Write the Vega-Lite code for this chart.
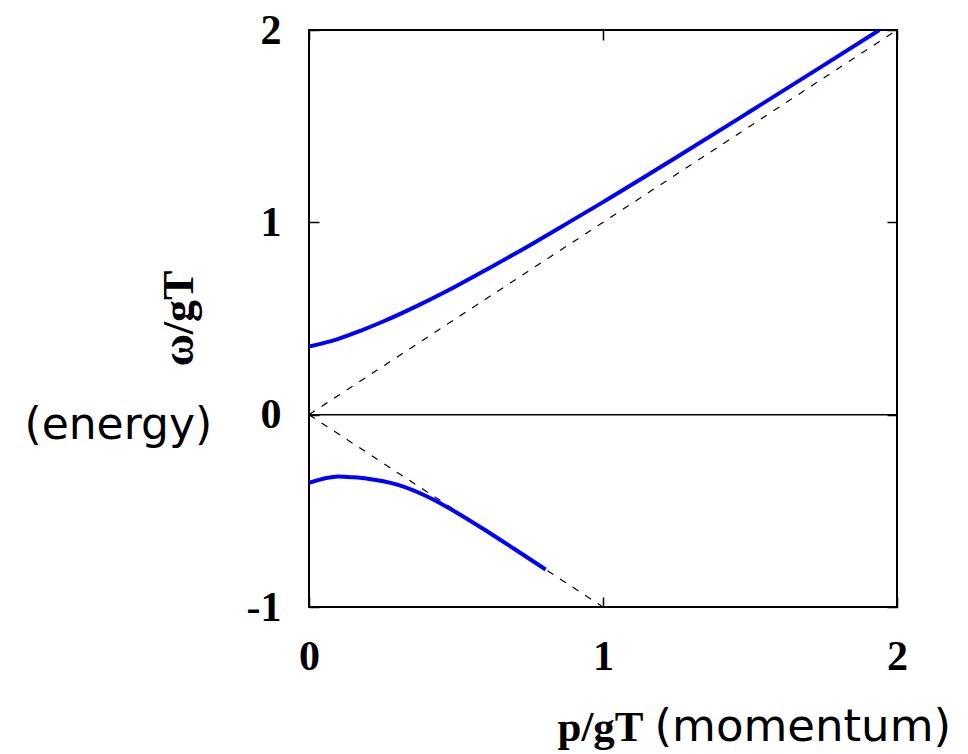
{
  "$schema": "https://vega.github.io/schema/vega-lite/v6.json",
  "width": 588,
  "height": 577,
  "autosize": "none",
  "padding": {"left": 309, "top": 30, "right": 71, "bottom": 147},
  "background": "white",
  "config": {"view": {"stroke": "black", "strokeWidth": 2}},
  "datasets": {
    "guides": [
      {"p": 0, "w": 0, "g": "up"},
      {"p": 2, "w": 2, "g": "up"},
      {"p": 0, "w": 0, "g": "down"},
      {"p": 1, "w": -1, "g": "down"}
    ],
    "curves": [
      {"p": 0, "w": 0.354, "branch": "particle"},
      {"p": 0.1, "w": 0.394, "branch": "particle"},
      {"p": 0.175, "w": 0.436, "branch": "particle"},
      {"p": 0.25, "w": 0.483, "branch": "particle"},
      {"p": 0.375, "w": 0.571, "branch": "particle"},
      {"p": 0.5, "w": 0.668, "branch": "particle"},
      {"p": 0.6, "w": 0.751, "branch": "particle"},
      {"p": 0.75, "w": 0.880, "branch": "particle"},
      {"p": 0.875, "w": 0.992, "branch": "particle"},
      {"p": 1.0, "w": 1.105, "branch": "particle"},
      {"p": 1.25, "w": 1.338, "branch": "particle"},
      {"p": 1.5, "w": 1.576, "branch": "particle"},
      {"p": 1.75, "w": 1.816, "branch": "particle"},
      {"p": 1.94, "w": 2.0, "branch": "particle"},
      {"p": 0, "w": -0.354, "branch": "plasmino"},
      {"p": 0.1, "w": -0.322, "branch": "plasmino"},
      {"p": 0.15, "w": -0.326, "branch": "plasmino"},
      {"p": 0.2, "w": -0.333, "branch": "plasmino"},
      {"p": 0.3, "w": -0.364, "branch": "plasmino"},
      {"p": 0.4, "w": -0.424, "branch": "plasmino"},
      {"p": 0.5, "w": -0.507, "branch": "plasmino"},
      {"p": 0.6, "w": -0.601, "branch": "plasmino"},
      {"p": 0.7, "w": -0.700, "branch": "plasmino"},
      {"p": 0.805, "w": -0.805, "branch": "plasmino"}
    ],
    "zero": [
      {"p": 0, "w": 0},
      {"p": 2, "w": 0}
    ]
  },
  "layer": [
    {
      "data": {"name": "zero"},
      "mark": {"type": "line", "color": "black", "strokeWidth": 1.5},
      "encoding": {
        "x": {
          "field": "p", "type": "quantitative",
          "scale": {"domain": [0, 2], "nice": false, "zero": false},
          "axis": {
            "orient": "bottom", "domain": false, "ticks": false, "labels": false, "grid": false,
            "title": "(momentum)", "titleFont": "DejaVu Sans", "titleFontWeight": "normal",
            "titleFontSize": 45, "titleColor": "black", "titleX": 345, "titleY": 133,
            "titleAlign": "left", "titleBaseline": "alphabetic", "titleAngle": 0
          }
        },
        "y": {
          "field": "w", "type": "quantitative",
          "scale": {"domain": [-1, 2], "nice": false, "zero": false},
          "axis": {
            "orient": "left", "domain": false, "ticks": false, "labels": false, "grid": false,
            "title": "(energy)", "titleFont": "DejaVu Sans", "titleFontWeight": "normal",
            "titleFontSize": 44, "titleColor": "black", "titleX": -285, "titleY": 408,
            "titleAlign": "left", "titleBaseline": "alphabetic", "titleAngle": 0
          }
        }
      }
    },
    {
      "data": {"name": "guides"},
      "mark": {"type": "line", "color": "black", "strokeWidth": 1.2, "strokeDash": [7, 8], "strokeCap": "butt"},
      "encoding": {
        "x": {
          "field": "p", "type": "quantitative",
          "scale": {"domain": [0, 2], "nice": false, "zero": false},
          "axis": {
            "orient": "bottom", "values": [0, 1, 2], "domain": false, "grid": false,
            "tickSize": -10, "tickColor": "black", "tickWidth": 1.5,
            "labelPadding": 39, "labelFont": "Liberation Serif", "labelFontWeight": "bold",
            "labelFontSize": 42, "labelColor": "black", "labelFlush": false, "labelOverlap": false,
            "labelDx": 4, "labelExpr": "toString(datum.value)",
            "title": "p/gT", "titleFont": "Liberation Serif", "titleFontWeight": "bold",
            "titleFontSize": 43, "titleColor": "black", "titleX": 248, "titleY": 133,
            "titleAlign": "left", "titleBaseline": "alphabetic", "titleAngle": 0
          }
        },
        "y": {
          "field": "w", "type": "quantitative",
          "scale": {"domain": [-1, 2], "nice": false, "zero": false},
          "axis": {
            "orient": "left", "values": [-1, 0, 1, 2], "domain": false, "grid": false,
            "tickSize": -10, "tickColor": "black", "tickWidth": 1.5,
            "labelPadding": 38, "labelFont": "Liberation Serif", "labelFontWeight": "bold",
            "labelFontSize": 42, "labelColor": "black", "labelFlush": false, "labelOverlap": false,
            "labelBaseline": "middle", "labelExpr": "toString(datum.value)",
            "title": "ω/gT", "titleFont": "Liberation Serif", "titleFontWeight": "bold",
            "titleFontSize": 44, "titleColor": "black", "titleX": -117, "titleY": 288,
            "titleAlign": "center", "titleBaseline": "alphabetic", "titleAngle": 270
          }
        },
        "detail": {"field": "g", "type": "nominal"}
      }
    },
    {
      "data": {"name": "curves"},
      "mark": {"type": "line", "color": "#0000ff", "strokeWidth": 4, "interpolate": "monotone", "clip": true},
      "encoding": {
        "x": {
          "field": "p", "type": "quantitative",
          "scale": {"domain": [0, 2], "nice": false, "zero": false},
          "axis": {
            "orient": "top", "values": [0, 1, 2], "domain": false, "grid": false, "labels": false,
            "tickSize": -10, "tickColor": "black", "tickWidth": 1.5, "title": null
          }
        },
        "y": {
          "field": "w", "type": "quantitative",
          "scale": {"domain": [-1, 2], "nice": false, "zero": false},
          "axis": {
            "orient": "right", "values": [-1, 0, 1, 2], "domain": false, "grid": false, "labels": false,
            "tickSize": -10, "tickColor": "black", "tickWidth": 1.5, "title": null
          }
        },
        "detail": {"field": "branch", "type": "nominal"}
      }
    }
  ],
  "resolve": {"axis": {"x": "independent", "y": "independent"}}
}
